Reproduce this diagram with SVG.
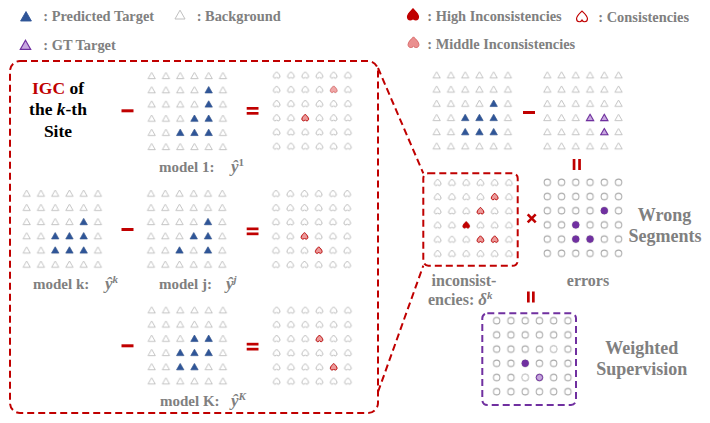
<svg xmlns="http://www.w3.org/2000/svg" xmlns:xlink="http://www.w3.org/1999/xlink" width="710" height="423" viewBox="0 0 710 423">
<style>
.bgT{fill:#fff;stroke:#bdbdbd;stroke-width:0.9}
.pred{fill:#2f5597;stroke:#2f5597;stroke-width:0.6}
.gt{fill:#c8a8e0;stroke:#7030a0;stroke-width:1.1}
.bgH{fill:#fff;stroke:#b0b0b0;stroke-width:0.9}
.mid{fill:#ec9a9a;stroke:#c00000;stroke-width:0.9}
.high{fill:#c00000;stroke:#c00000;stroke-width:0.8}
.bgC{fill:#fff;stroke:#a6a6a6;stroke-width:1}
.ltC{fill:#fff;stroke:#d0d0d0;stroke-width:1}
.err{fill:#7030a0;stroke:#7030a0;stroke-width:1}
.errL{fill:#c5a5dc;stroke:#7030a0;stroke-width:1}
.t{font-family:"Liberation Serif","Times New Roman",serif;font-weight:bold;fill:#808080}
.leg{font-size:14.4px}
.lab{font-size:15px}
.lab2{font-size:16px}
.big{font-size:18px}
.blk{fill:#000;font-size:17.5px}
.red{fill:#c00000}
.m{font-style:italic}
.hat{font-style:italic;font-size:17px}
.op{fill:#c00000}
.dR{fill:none;stroke:#c00000;stroke-width:2;stroke-dasharray:7 4}
.dP{fill:none;stroke:#7030a0;stroke-width:2;stroke-dasharray:7 4}
</style>
<defs>
<path id="tri" d="M0,-3.3 L3.6,3 L-3.6,3 Z"/>
<path id="hrt" d="M0,-3.3 C-1.2,-2 -3.3,-0.4 -3.3,1.4 C-3.3,2.6 -2.5,3.2 -1.6,3.2 C-0.9,3.2 -0.3,2.8 0,2.2 C0.3,2.8 0.9,3.2 1.6,3.2 C2.5,3.2 3.3,2.6 3.3,1.4 C3.3,-0.4 1.2,-2 0,-3.3 Z"/>
<circle id="cir" r="3.2"/>
<pattern id="pT" patternUnits="userSpaceOnUse" width="14.25" height="14.2"><use href="#tri" class="bgT" x="7.125" y="7.1"/></pattern>
<pattern id="pH" patternUnits="userSpaceOnUse" width="14.25" height="14.2"><use href="#hrt" class="bgH" x="7.125" y="7.1"/></pattern>
<pattern id="pC" patternUnits="userSpaceOnUse" width="14.25" height="14.2"><use href="#cir" class="bgC" x="7.125" y="7.1"/></pattern>
</defs>
<rect width="710" height="423" fill="#fff"/>

<g id="legend">
<use href="#tri" class="pred" transform="translate(26,16.5) scale(1.5)"/>
<text class="t leg" x="43.3" y="21">: Predicted Target</text>
<use href="#tri" class="bgT" transform="translate(180,14.8) scale(1.4)" style="stroke-width:0.7"/>
<text class="t leg" x="196.7" y="21">: Background</text>
<use href="#tri" class="gt" transform="translate(25.5,45) scale(1.45)" style="stroke-width:0.8"/>
<text class="t leg" x="43.3" y="50">: GT Target</text>
<use href="#hrt" class="high" transform="translate(413,14.5) scale(1.65)"/>
<text class="t leg" x="427.3" y="21">: High Inconsistencies</text>
<use href="#hrt" fill="#fff" stroke="#c00000" stroke-width="0.7" transform="translate(582,16.5) scale(1.65)"/>
<text class="t leg" x="598.3" y="22">: Consistencies</text>
<use href="#hrt" fill="#ea8f8f" stroke="#d96b6b" stroke-width="0.6" transform="translate(413.5,42.3) scale(1.65)"/>
<text class="t leg" x="427.3" y="49">: Middle Inconsistencies</text>
</g>

<g id="igc-box">
<rect class="dR" x="10" y="61" width="368" height="352" rx="10"/>
</g>

<g id="igc-title">
<text class="t blk" text-anchor="middle" x="58" y="94"><tspan class="red">IGC</tspan> of</text>
<text class="t blk" text-anchor="middle" x="58" y="115">the <tspan class="m">k</tspan>-th</text>
<text class="t blk" text-anchor="middle" x="58" y="136.5">Site</text>
</g>

<g id="model1">
<rect width="85.5" height="85.2" fill="url(#pT)" transform="translate(144.575,68.6)"/>
<use href="#tri" class="pred" x="208.7" y="89.9"/>
<use href="#tri" class="pred" x="208.7" y="104.1"/>
<use href="#tri" class="pred" x="194.45" y="118.3"/>
<use href="#tri" class="pred" x="208.7" y="118.3"/>
<use href="#tri" class="pred" x="180.2" y="132.5"/>
<use href="#tri" class="pred" x="194.45" y="132.5"/>
<use href="#tri" class="pred" x="208.7" y="132.5"/>
<text class="t lab" x="159" y="172">model 1:</text>
<text class="t hat" x="231" y="172">ŷ<tspan dy="-6.5" font-size="11" font-style="normal">1</tspan></text>
</g>

<g id="result1">
<rect width="85.5" height="85.2" fill="url(#pH)" transform="translate(269.575,67.9)"/>
<use href="#hrt" class="mid" x="333.7" y="89.2" style="fill:#f0a8a8;stroke:#e07070"/>
<use href="#hrt" class="mid" x="305.2" y="117.6"/>
</g>

<g id="modelk">
<rect width="85.5" height="85.2" fill="url(#pT)" transform="translate(19.575,186.2)"/>
<use href="#tri" class="pred" x="83.7" y="221.7"/>
<use href="#tri" class="pred" x="55.2" y="235.9"/>
<use href="#tri" class="pred" x="69.45" y="235.9"/>
<use href="#tri" class="pred" x="83.7" y="235.9"/>
<use href="#tri" class="pred" x="55.2" y="250.1"/>
<use href="#tri" class="pred" x="69.45" y="250.1"/>
<use href="#tri" class="pred" x="83.7" y="250.1"/>
<text class="t lab" x="33" y="289">model k:</text>
<text class="t hat" x="105" y="289">ŷ<tspan dy="-6.5" font-size="11">k</tspan></text>
</g>

<g id="modelj">
<rect width="85.5" height="85.2" fill="url(#pT)" transform="translate(143.875,186.2)"/>
<use href="#tri" class="pred" x="208" y="221.7"/>
<use href="#tri" class="pred" x="193.75" y="235.9"/>
<use href="#tri" class="pred" x="208" y="235.9"/>
<use href="#tri" class="pred" x="179.5" y="250.1"/>
<use href="#tri" class="pred" x="208" y="250.1"/>
<text class="t lab" x="159" y="289">model j:</text>
<text class="t hat" x="226" y="289">ŷ<tspan dy="-6.5" font-size="11">j</tspan></text>
</g>

<g id="resultj">
<rect width="85.5" height="85.2" fill="url(#pH)" transform="translate(268.875,186.2)"/>
<use href="#hrt" class="mid" x="304.5" y="235.9"/>
<use href="#hrt" class="mid" x="318.75" y="250.1"/>
</g>

<g id="modelK">
<rect width="85.5" height="85.2" fill="url(#pT)" transform="translate(144.575,302.9)"/>
<use href="#tri" class="pred" x="194.45" y="338.4"/>
<use href="#tri" class="pred" x="208.7" y="338.4"/>
<use href="#tri" class="pred" x="180.2" y="352.6"/>
<use href="#tri" class="pred" x="194.45" y="352.6"/>
<use href="#tri" class="pred" x="208.7" y="352.6"/>
<use href="#tri" class="pred" x="180.2" y="366.8"/>
<use href="#tri" class="pred" x="194.45" y="366.8"/>
<text class="t lab" x="160" y="406">model K:</text>
<text class="t hat" x="231" y="406">ŷ<tspan dy="-6.5" font-size="11">K</tspan></text>
</g>

<g id="resultK">
<rect width="85.5" height="85.2" fill="url(#pH)" transform="translate(269.575,302.9)"/>
<use href="#hrt" class="mid" x="319.45" y="338.4"/>
<use href="#hrt" class="mid" x="333.7" y="366.8"/>
</g>

<g id="operators-left">
<rect class="op" x="121.5" y="109.3" width="12" height="3"/>
<rect class="op" x="121.5" y="228" width="12" height="3"/>
<rect class="op" x="121.5" y="344.3" width="12" height="3"/>
<rect class="op" x="246.7" y="107" width="11.8" height="2.7"/>
<rect class="op" x="246.7" y="112" width="11.8" height="2.7"/>
<rect class="op" x="246.7" y="227.5" width="11.8" height="2.7"/>
<rect class="op" x="246.7" y="232.5" width="11.8" height="2.7"/>
<rect class="op" x="246.7" y="342.8" width="11.8" height="2.7"/>
<rect class="op" x="246.7" y="347.8" width="11.8" height="2.7"/>
</g>

<g id="pred-k">
<rect width="85.5" height="85.2" fill="url(#pT)" transform="translate(429.575,67.9)"/>
<use href="#tri" class="pred" x="493.7" y="103.4"/>
<use href="#tri" class="pred" x="465.2" y="117.6"/>
<use href="#tri" class="pred" x="479.45" y="117.6"/>
<use href="#tri" class="pred" x="493.7" y="117.6"/>
<use href="#tri" class="pred" x="465.2" y="131.8"/>
<use href="#tri" class="pred" x="479.45" y="131.8"/>
<use href="#tri" class="pred" x="493.7" y="131.8"/>
</g>

<g id="gt">
<rect width="85.5" height="85.2" fill="url(#pT)" transform="translate(540.175,67.9)"/>
<use href="#tri" class="gt" x="590.05" y="117.6"/>
<use href="#tri" class="gt" x="604.3" y="117.6"/>
<use href="#tri" class="gt" x="604.3" y="131.8"/>
</g>

<g id="inconsistencies">
<rect class="dR" x="423.3" y="173.3" width="94.4" height="92.4" rx="5"/>
<rect width="85.5" height="85.2" fill="url(#pH)" transform="translate(430.575,175.2)"/>
<use href="#hrt" class="mid" x="494.7" y="196.5"/>
<use href="#hrt" class="mid" x="480.45" y="210.7"/>
<use href="#hrt" class="high" x="466.2" y="224.9"/>
<use href="#hrt" class="mid" x="480.45" y="239.1"/>
<use href="#hrt" class="mid" x="494.7" y="239.1"/>
<text class="t lab2" text-anchor="middle" x="464" y="286">inconsist-</text>
<text class="t lab2" x="428" y="305">encies: <tspan class="m" font-size="17">δ</tspan><tspan class="m" dy="-6.5" font-size="11">k</tspan></text>
</g>

<g id="errors">
<rect width="85.5" height="85.2" fill="url(#pC)" transform="translate(540.175,175.2)"/>
<use href="#cir" class="err" x="604.3" y="210.7"/>
<use href="#cir" class="err" x="575.8" y="224.9"/>
<use href="#cir" class="err" x="575.8" y="239.1"/>
<use href="#cir" class="err" x="590.05" y="239.1"/>
<text class="t lab2" text-anchor="middle" x="588" y="286">errors</text>
</g>

<g id="wrong-segments">
<text class="t big" text-anchor="middle" x="664.5" y="221">Wrong</text>
<text class="t big" text-anchor="middle" x="665" y="242">Segments</text>
</g>

<g id="weighted">
<rect class="dP" x="482.3" y="313.3" width="93.7" height="91.7" rx="5"/>
<rect width="85.5" height="85.2" fill="url(#pC)" transform="translate(489.575,313.6)"/>
<use href="#cir" class="ltC" x="553.7" y="349.1"/>
<use href="#cir" class="ltC" x="525.2" y="377.5"/>
<use href="#cir" class="err" x="525.2" y="363.3"/>
<use href="#cir" class="errL" x="539.45" y="377.5"/>
</g>

<g id="weighted-supervision">
<text class="t big" text-anchor="middle" x="641.7" y="354">Weighted</text>
<text class="t big" text-anchor="middle" x="641.7" y="375">Supervision</text>
</g>

<g id="connectors">
<line class="dR" x1="378" y1="68" x2="423.3" y2="173.3"/>
<line class="dR" x1="378" y1="392" x2="423.3" y2="265.7"/>
<rect class="op" x="523" y="111" width="12" height="3"/>
<rect class="op" x="572.7" y="159" width="2.7" height="11"/>
<rect class="op" x="578.2" y="159" width="2.7" height="11"/>
<path d="M527.7,214.3 L535.7,222.3 M535.7,214.3 L527.7,222.3" stroke="#c00000" stroke-width="2.6" fill="none"/>
<rect class="op" x="527" y="291.5" width="2.7" height="11"/>
<rect class="op" x="532" y="291.5" width="2.7" height="11"/>
</g>
</svg>
